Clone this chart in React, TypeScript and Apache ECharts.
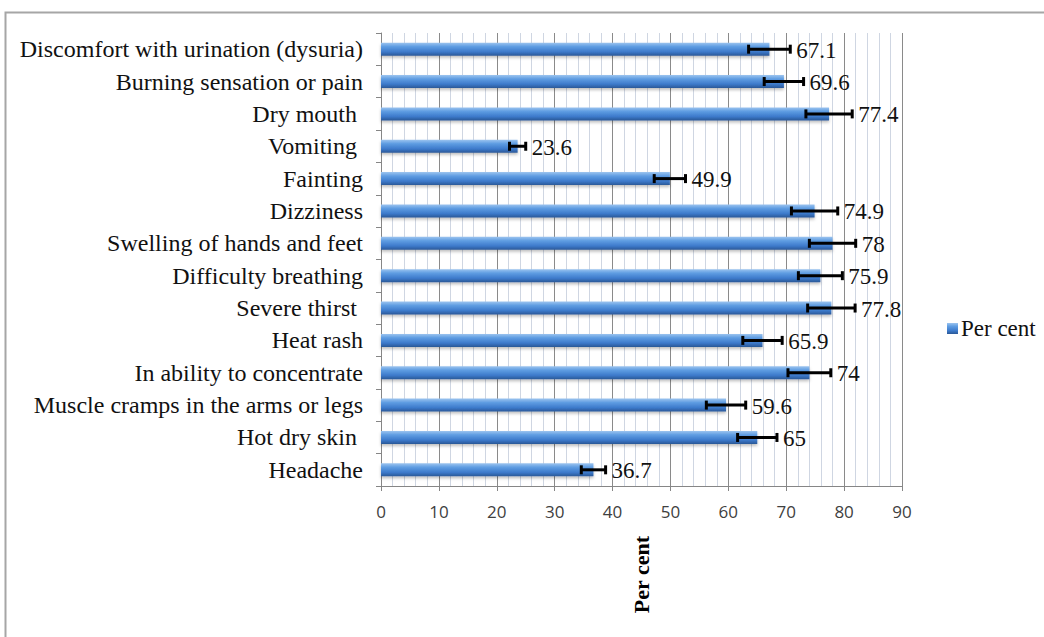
import React, { useEffect, useRef } from "react";
import * as echarts from "echarts";

const categories = [
  "Discomfort with urination (dysuria)",
  "Burning sensation or pain",
  "Dry mouth ",
  "Vomiting ",
  "Fainting",
  "Dizziness",
  "Swelling of hands and feet",
  "Difficulty breathing",
  "Severe thirst ",
  "Heat rash",
  "In ability to concentrate",
  "Muscle cramps in the arms or legs",
  "Hot dry skin ",
  "Headache",
];
const values = [67.1, 69.6, 77.4, 23.6, 49.9, 74.9, 78, 75.9, 77.8, 65.9, 74, 59.6, 65, 36.7];
const errors = [3.6, 3.4, 4.0, 1.4, 2.7, 4.0, 4.0, 3.8, 4.1, 3.4, 3.7, 3.4, 3.4, 2.1];
const seriesName = "Per cent";
const axisTitle = "Per cent";

export default function App() {
  const ref = useRef<HTMLDivElement>(null);
  useEffect(() => {
    if (!ref.current) return;
    const chart = echarts.init(ref.current, null, { renderer: "svg" });
    const serif = "'Liberation Serif', 'Times New Roman', serif";
    const errData = values.map((v, i) => [v, i, errors[i]]);
    chart.setOption({
      animation: false,
      backgroundColor: "#ffffff",
      graphic: [
        {
          type: "rect",
          shape: { x: 5.5, y: 12.5, width: 1200, height: 800 },
          style: { fill: "none", stroke: "#a6a6a6", lineWidth: 2 },
          silent: true,
        },
      ],
      grid: { left: 381, right: 142, top: 33, bottom: 151, containLabel: false },
      legend: {
        orient: "vertical",
        left: 942,
        top: 312,
        icon: "rect",
        itemWidth: 11,
        itemHeight: 11,
        itemGap: 4,
        data: [seriesName],
        textStyle: { fontFamily: serif, fontSize: 23, color: "#111", padding: [0, 0, 0, -2] },
      },
      xAxis: {
        type: "value",
        min: 0,
        max: 90,
        interval: 10,
        name: axisTitle,
        nameLocation: "middle",
        nameRotate: 90,
        nameGap: 50,
        nameTextStyle: { fontFamily: serif, fontSize: 22, fontWeight: "bold", color: "#000" },
        axisLine: { show: true, lineStyle: { color: "#868686", width: 1 } },
        axisTick: { show: true, length: 5, lineStyle: { color: "#868686" } },
        axisLabel: { fontFamily: "'Open Sans', 'Noto Sans', sans-serif", fontSize: 17, color: "#404040", margin: 17 },
        splitLine: { show: true, lineStyle: { color: "#8a8a8a", width: 1 } },
        minorTick: { show: false, splitNumber: 5 },
        minorSplitLine: { show: true, lineStyle: { color: "#cfd6e2", width: 1 } },
      },
      yAxis: {
        type: "category",
        inverse: true,
        data: categories,
        axisLine: { show: true, lineStyle: { color: "#868686", width: 1 } },
        axisTick: { show: true, length: 5, lineStyle: { color: "#868686" } },
        axisLabel: { fontFamily: serif, fontSize: 24, color: "#111", margin: 18 },
        splitLine: { show: false },
      },
      series: [
        {
          name: seriesName,
          type: "bar",
          data: values,
          barWidth: 13,
          itemStyle: {
            color: new echarts.graphic.LinearGradient(0, 0, 0, 1, [
              { offset: 0, color: "#9cc4ef" },
              { offset: 0.3, color: "#5f9de2" },
              { offset: 0.7, color: "#3d7acb" },
              { offset: 1, color: "#2a5897" },
            ]),
            shadowColor: "rgba(0,0,0,0.25)",
            shadowBlur: 3,
            shadowOffsetY: 2,
          },
        },
        {
          name: "errors",
          type: "custom",
          data: errData,
          encode: { x: 0, y: 1 },
          z: 5,
          renderItem: (params: any, api: any) => {
            const v = api.value(0);
            const idx = api.value(1);
            const e = api.value(2);
            const lo = api.coord([v - e, idx]);
            const hi = api.coord([v + e, idx]);
            const y = lo[1];
            const cap = 4.5;
            const style = { stroke: "#000", lineWidth: 3 };
            return {
              type: "group",
              children: [
                { type: "line", shape: { x1: lo[0], y1: y, x2: hi[0], y2: y }, style },
                { type: "line", shape: { x1: lo[0], y1: y - cap, x2: lo[0], y2: y + cap }, style },
                { type: "line", shape: { x1: hi[0], y1: y - cap, x2: hi[0], y2: y + cap }, style },
                {
                  type: "text",
                  style: {
                    x: hi[0] + 6,
                    y: y + 1,
                    text: String(v),
                    fontFamily: serif,
                    fontSize: 23,
                    fill: "#111",
                    align: "left",
                    verticalAlign: "middle",
                  },
                },
              ],
            };
          },
        },
      ],
    });
    return () => chart.dispose();
  }, []);
  return (
    <div
      ref={ref}
      style={{ position: "fixed", left: 0, top: 0, width: 1044, height: 637 }}
    />
  );
}
